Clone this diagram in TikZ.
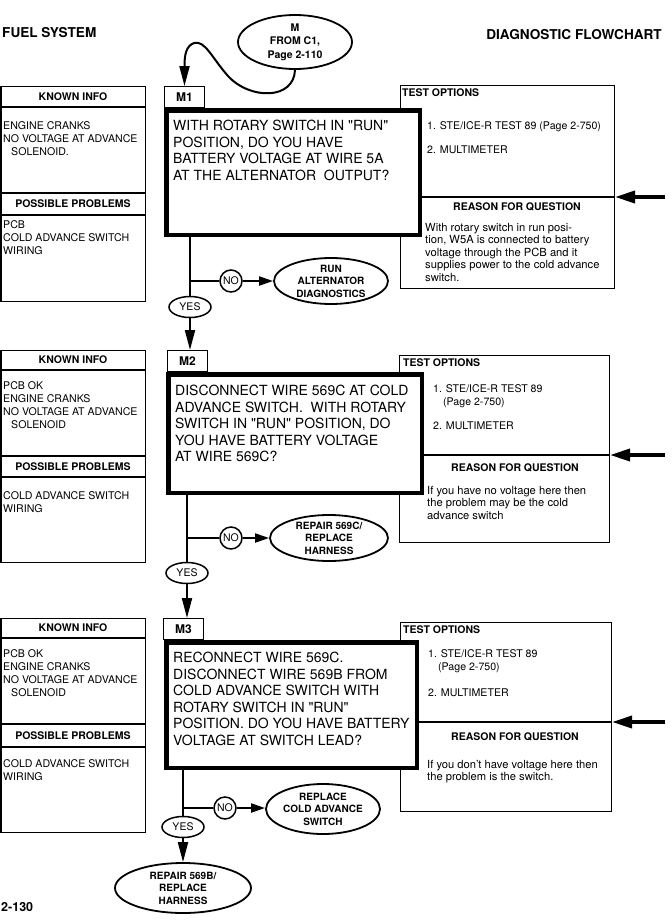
\documentclass[tikz,border=0pt]{standalone}
\usepackage{fontspec}
\setmainfont{TeX Gyre Heros}[Ligatures=TeXOff]
\usetikzlibrary{shapes.geometric,arrows.meta}
\begin{document}
\begin{tikzpicture}[x=1pt,y=-1pt,
  thinbox/.style={draw, line width=1.3pt, inner sep=0pt, fill=white, anchor=north west},
  qbox/.style={draw, line width=4.5pt, fill=white, inner sep=0pt, anchor=north west},
  divline/.style={line width=1.3pt},
  conn/.style={line width=2pt},
  harrow/.style={line width=2pt, -{Triangle[length=14pt,width=9pt]}},
  varrow/.style={line width=2pt, -{Triangle[length=20pt,width=10pt]}},
  bigarrow/.style={line width=3.4pt, -{Triangle[length=20pt,width=12pt]}},
  oval/.style={ellipse, draw, line width=1.8pt, inner sep=0pt, align=center, fill=white, font=\bfseries\fontsize{10}{12.5}\selectfont},
  noc/.style={circle, draw, line width=1.5pt, minimum size=22pt, inner sep=0pt, fill=white, font=\fontsize{10.5}{12}\selectfont},
  yesc/.style={ellipse, draw, line width=1.5pt, minimum width=42pt, minimum height=21pt, inner sep=0pt, fill=white, font=\fontsize{10.5}{12}\selectfont},
  qtext/.style={align=left, inner sep=0pt, anchor=north west, font=\fontsize{14}{16.5}\selectfont},
  body/.style={align=left, inner sep=0pt, anchor=north west, font=\fontsize{10.6}{13}\selectfont},
  reason/.style={align=left, inner sep=0pt, anchor=north west, font=\fontsize{11.2}{12.5}\selectfont},
  boxhead/.style={inner sep=0pt, font=\bfseries\fontsize{10.5}{12}\selectfont},
  mlabel/.style={draw, line width=1.3pt, inner sep=0pt, anchor=north west, minimum width=39.7pt, minimum height=20.7pt, fill=white, font=\bfseries\fontsize{12}{14}\selectfont},
  hdr/.style={inner sep=0pt, font=\bfseries\fontsize{13.6}{16}\selectfont}
]
\useasboundingbox (0,0) rectangle (672,924);

% page headers
\node[hdr, anchor=west] (fuel) at (2,33) {FUEL SYSTEM};
\node[hdr, anchor=east] (diag) at (662,35) {DIAGNOSTIC FLOWCHART};
\node[hdr, anchor=west, font=\bfseries\fontsize{12.5}{15}\selectfont] (pagenum) at (1,907) {2-130};

% entry oval
\node[oval, minimum width=114pt, minimum height=54pt, font=\bfseries\fontsize{10.5}{13.5}\selectfont] (entry) at (295,42) {M\\FROM C1,\\Page 2-110};

% ================= SECTION M1 =================
\node[thinbox, minimum width=144.4pt, minimum height=214.7pt] (k1) at (0.3,86) {};
\draw[divline] (0.3,107) -- (146,107);
\draw[divline] (0.3,193) -- (146,193);
\draw[divline] (0.3,215) -- (146,215);
\node[boxhead] (k1h) at (73,96.5) {KNOWN INFO};
\node[boxhead] (k1p) at (73,204) {POSSIBLE PROBLEMS};
\node[body] (k1t) at (3,121) {ENGINE CRANKS\\NO VOLTAGE AT ADVANCE\\\hspace*{8pt}SOLENOID.};
\node[body] (k1q) at (3,220) {PCB\\COLD ADVANCE SWITCH\\WIRING};

\node[mlabel] (m1) at (164,86) {M1};
\node[thinbox, minimum width=213.7pt, minimum height=202.7pt] (t1) at (400,85) {};
\draw[divline] (400,197) -- (614,197);
\node[qbox, minimum width=253.5pt, minimum height=124.5pt] (q1) at (164,108) {};
\node[qtext] (q1t) at (173,120) {WITH ROTARY SWITCH IN "RUN"\\POSITION, DO YOU HAVE\\BATTERY VOLTAGE AT WIRE 5A\\AT THE ALTERNATOR\ \ OUTPUT?};
\node[boxhead, anchor=west] (t1h) at (402,93) {TEST OPTIONS};
\node[body] (t1a) at (427,121) {1. STE/ICE-R TEST 89 (Page 2-750)};
\node[body] (t1b) at (427,146) {2. MULTIMETER};
\node[boxhead] (r1h) at (517,207) {REASON FOR QUESTION};
\node[reason] (r1t) at (425,223) {With rotary switch in run posi-\\tion, W5A is connected to battery\\voltage through the PCB and it\\supplies power to the cold advance\\switch.};
\coordinate (in1) at (665,197);
\draw[bigarrow] (in1) -- (t1.east |- in1);

\node[noc] (no1) at (231,281) {NO};
\node[yesc] (yes1) at (190,307) {YES};
\node[oval, minimum width=114pt, minimum height=46pt] (act1) at (331,281) {RUN\\ALTERNATOR\\DIAGNOSTICS};
\coordinate (br1) at (yes1 |- no1);
\draw[conn] (q1.south -| yes1) -- (yes1.north);
\draw[conn] (br1) -- (no1.west);
\draw[harrow] (no1.east) -- (act1.west);

% entry curve
\draw[varrow] (entry.south) .. controls (294,100) and (250,100) .. (228,76) .. controls (212,58) and (205,40) .. (194,43) .. controls (186,46) and (184.5,55) .. (184.5,66) -- (m1.north);

% ================= SECTION M2 =================
\node[thinbox, minimum width=144.4pt, minimum height=211.7pt] (k2) at (0.3,350) {};
\draw[divline] (0.3,370) -- (146,370);
\draw[divline] (0.3,456) -- (146,456);
\draw[divline] (0.3,477) -- (146,477);
\node[boxhead] (k2h) at (73,360) {KNOWN INFO};
\node[boxhead] (k2p) at (73,466.5) {POSSIBLE PROBLEMS};
\node[body] (k2t) at (3,381) {PCB OK\\ENGINE CRANKS\\NO VOLTAGE AT ADVANCE\\\hspace*{8pt}SOLENOID};
\node[body] (k2q) at (3,491) {COLD ADVANCE SWITCH\\WIRING};

\node[mlabel] (m2) at (167,350) {M2};
\node[thinbox, minimum width=209.7pt, minimum height=186.7pt] (t2) at (399,355) {};
\draw[divline] (399,455) -- (609,455);
\node[qbox, minimum width=253.5pt, minimum height=118.5pt] (q2) at (166,372) {};
\node[qtext] (q2t) at (175,385) {DISCONNECT WIRE 569C AT COLD\\ADVANCE SWITCH.\ \ WITH ROTARY\\SWITCH IN "RUN" POSITION, DO\\YOU HAVE BATTERY VOLTAGE\\AT WIRE 569C?};
\node[boxhead, anchor=west] (t2h) at (403,363) {TEST OPTIONS};
\node[body] (t2a) at (433,384) {1. STE/ICE-R TEST 89\\\hspace*{10pt}(Page 2-750)};
\node[body] (t2b) at (433,422) {2. MULTIMETER};
\node[boxhead] (r2h) at (515,468) {REASON FOR QUESTION};
\node[reason] (r2t) at (427,486) {If you have no voltage here then\\the problem may be the cold\\advance switch};
\coordinate (in2) at (665,455);
\draw[bigarrow] (in2) -- (t2.east |- in2);

\draw[varrow] (yes1.south) -- (yes1.south |- m2.north);

\node[noc] (no2) at (231,538) {NO};
\node[yesc] (yes2) at (187,573) {YES};
\node[oval, minimum width=118pt, minimum height=46pt] (act2) at (329,538) {REPAIR 569C/\\REPLACE\\HARNESS};
\coordinate (br2) at (yes2 |- no2);
\draw[conn] (q2.south -| yes2) -- (yes2.north);
\draw[conn] (br2) -- (no2.west);
\draw[harrow] (no2.east) -- (act2.west);

% ================= SECTION M3 =================
\node[thinbox, minimum width=144.4pt, minimum height=213.7pt] (k3) at (0.3,618) {};
\draw[divline] (0.3,638) -- (146,638);
\draw[divline] (0.3,724) -- (146,724);
\draw[divline] (0.3,747) -- (146,747);
\node[boxhead] (k3h) at (73,628) {KNOWN INFO};
\node[boxhead] (k3p) at (73,735.5) {POSSIBLE PROBLEMS};
\node[body] (k3t) at (3,649) {PCB OK\\ENGINE CRANKS\\NO VOLTAGE AT ADVANCE\\\hspace*{8pt}SOLENOID};
\node[body] (k3q) at (3,759) {COLD ADVANCE SWITCH\\WIRING};

\node[mlabel] (m3) at (163,618) {M3};
\node[thinbox, minimum width=210.7pt, minimum height=188.7pt] (t3) at (400,622) {};
\draw[divline] (400,722) -- (611,722);
\node[qbox, minimum width=250.5pt, minimum height=125.5pt] (q3) at (164,640) {};
\node[qtext] (q3t) at (173,652) {RECONNECT WIRE 569C.\\DISCONNECT WIRE 569B FROM\\COLD ADVANCE SWITCH WITH\\ROTARY SWITCH IN "RUN"\\POSITION. DO YOU HAVE BATTERY\\VOLTAGE AT SWITCH LEAD?};
\node[boxhead, anchor=west] (t3h) at (403,630) {TEST OPTIONS};
\node[body] (t3a) at (428,649) {1. STE/ICE-R TEST 89\\\hspace*{10pt}(Page 2-750)};
\node[body] (t3b) at (428,689) {2. MULTIMETER};
\node[boxhead] (r3h) at (515,737) {REASON FOR QUESTION};
\node[reason] (r3t) at (427,760) {If you don’t have voltage here then\\the problem is the switch.};
\coordinate (in3) at (665,722);
\draw[bigarrow] (in3) -- (t3.east |- in3);

\draw[varrow] (yes2.south) -- (yes2.south |- m3.north);

\node[noc] (no3) at (225,808) {NO};
\node[yesc] (yes3) at (183,827) {YES};
\node[oval, minimum width=114pt, minimum height=50pt] (act3) at (323,809) {REPLACE\\COLD ADVANCE\\SWITCH};
\node[oval, minimum width=136pt, minimum height=50pt] (act4) at (183,888) {REPAIR 569B/\\REPLACE\\HARNESS};
\coordinate (br3) at (yes3 |- no3);
\draw[conn] (q3.south -| yes3) -- (yes3.north);
\draw[conn] (br3) -- (no3.west);
\draw[harrow] (no3.east) -- (act3.west |- no3);
\draw[varrow] (yes3.south) -- (act4.north);

\end{tikzpicture}
\end{document}
